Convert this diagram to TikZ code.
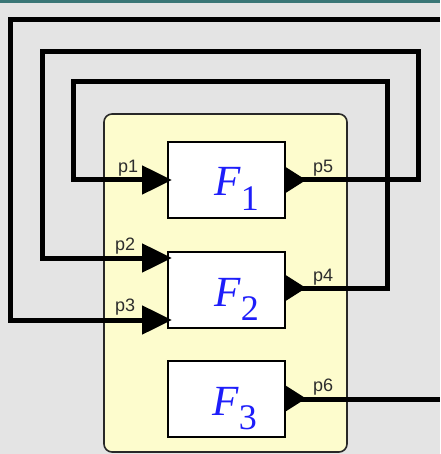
\documentclass[tikz,border=0pt]{standalone}
\usepackage{fontspec}
\setmainfont{Liberation Serif}
\newfontfamily\lsans{Liberation Sans}
\usetikzlibrary{arrows.meta,calc}
\definecolor{bgc}{RGB}{228,228,228}
\definecolor{topc}{RGB}{58,118,118}
\definecolor{yel}{RGB}{253,252,205}
\definecolor{edge}{RGB}{40,40,40}
\definecolor{fblue}{RGB}{30,30,250}
\definecolor{lbl}{RGB}{45,45,45}
\tikzset{
  container/.style={draw=edge, line width=1.6pt, fill=yel, rounded corners=8pt,
    minimum width=243pt, minimum height=338pt, inner sep=0pt},
  fbox/.style={draw=black, line width=2pt, fill=white,
    minimum width=117pt, minimum height=76pt, inner sep=0pt},
  ftext/.style={anchor=base west, inner sep=0pt, text=fblue,
    font=\fontsize{43}{43}\selectfont},
  conn/.style={draw=black, line width=5pt, line join=miter},
  inarrow/.style={-{Triangle[length=30pt,width=28pt]}},
  plabel/.style={anchor=base west, inner sep=0pt, text=lbl,
    font=\lsans\fontsize{18}{18}\selectfont},
}
\newcommand{\fsub}[1]{\raisebox{-14pt}{\fontsize{36}{36}\selectfont #1}}
\begin{document}
\begin{tikzpicture}[x=1pt,y=-1pt]
\useasboundingbox (0,0) rectangle (440,454);
\fill[bgc] (0,0) rectangle (440,454);
\fill[topc] (0,0) rectangle (440,3);

% container block
\node[container] (blk) at (225.5,283) {};

% function blocks
\node[fbox] (F1) at (226.5,180) {};
\node[fbox] (F2) at (226.5,290) {};
\node[fbox] (F3) at (226.5,398.5) {};

\node[ftext] (t1) at (214,196) {\textit{F}\fsub{1}};
\node[ftext] (t2) at (214,306) {\textit{F}\fsub{2}};
\node[ftext] (t3) at (212,415) {\textit{F}\fsub{3}};

% loop corners
\coordinate (a0) at (440,20);
\coordinate (a1) at (10,20);
\coordinate (b1) at (418,52);
\coordinate (b2) at (42,52);
\coordinate (c1) at (387,82);
\coordinate (c2) at (73,82);
\coordinate (p6end) at (440,399);

% output triangles
\fill ($(F1.east)+(-2,-14)$) -- ++(22,14) -- ++(-22,14) -- cycle;
\fill ($(F2.east)+(-2,-16)$) -- ++(22,14) -- ++(-22,14) -- cycle;
\fill ($(F3.east)+(-2,-14)$) -- ++(22,14) -- ++(-22,14) -- cycle;

% connectors
% outer loop into p3
\draw[conn,inarrow] (a0) -- (a1) |- ($(F2.west)+(5,30)$);
% p5 -> p2
\draw[conn,inarrow] (F1.east) -| (b1) -| (b2) |- ($(F2.west)+(5,-32)$);
% p4 -> p1
\draw[conn,inarrow] ($(F2.east)+(0,-2)$) -| (c1) -| (c2) |- ($(F1.west)+(5,0)$);
% p6 out
\draw[conn] ($(F3.east)+(0,0.5)$) -- (p6end);

% port labels
\node[plabel] (l1) at (118,172) {p1};
\node[plabel] (l2) at (115,250) {p2};
\node[plabel] (l3) at (115,311) {p3};
\node[plabel] (l5) at (313,172) {p5};
\node[plabel] (l4) at (313,281) {p4};
\node[plabel] (l6) at (313,391) {p6};
\end{tikzpicture}
\end{document}
